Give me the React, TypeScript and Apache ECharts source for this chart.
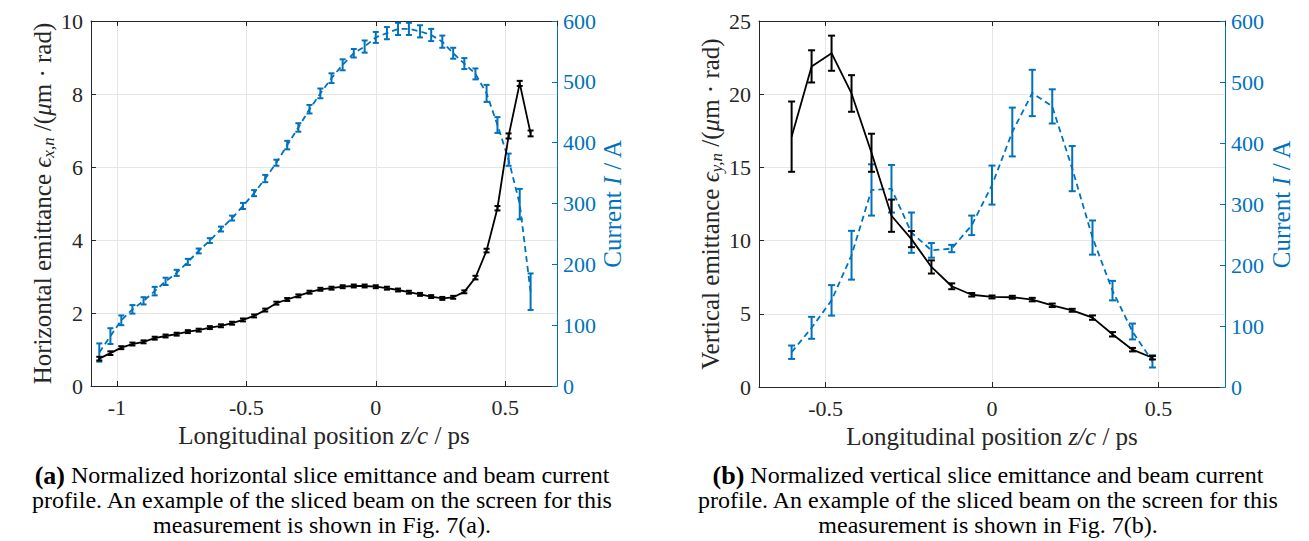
import React, { useEffect, useRef } from "react";
import * as echarts from "echarts";

const FONT = "'Liberation Serif', 'Times New Roman', serif";
const BLUE = "#0072BD";
const BLACK = "#000000";
const AXIS = "#262626";
const GRIDC = "#e6e6e6";

// ---------- (a) horizontal ----------
const hx = [-1.068, -1.025, -0.983, -0.94, -0.897, -0.854, -0.812, -0.769, -0.726, -0.684,
  -0.641, -0.598, -0.555, -0.513, -0.47, -0.427, -0.384, -0.342, -0.299, -0.256,
  -0.214, -0.171, -0.128, -0.085, -0.043, 0.0, 0.043, 0.086, 0.128, 0.171,
  0.214, 0.257, 0.299, 0.342, 0.385, 0.428, 0.47, 0.513, 0.556, 0.598];
const hEmit = [0.75, 0.9, 1.05, 1.15, 1.21, 1.31, 1.37, 1.42, 1.49, 1.53,
  1.6, 1.65, 1.72, 1.81, 1.92, 2.08, 2.27, 2.37, 2.47, 2.57,
  2.65, 2.68, 2.72, 2.74, 2.74, 2.72, 2.68, 2.63, 2.57, 2.51,
  2.45, 2.4, 2.43, 2.58, 2.97, 3.71, 4.87, 6.85, 8.29, 6.92];
const hEmitErr = [0.05, 0.05, 0.04, 0.04, 0.04, 0.04, 0.04, 0.04, 0.04, 0.04,
  0.04, 0.04, 0.04, 0.04, 0.04, 0.04, 0.04, 0.04, 0.04, 0.04,
  0.04, 0.04, 0.04, 0.04, 0.04, 0.04, 0.04, 0.04, 0.04, 0.04,
  0.04, 0.04, 0.04, 0.04, 0.05, 0.05, 0.06, 0.07, 0.07, 0.08];
const hCur = [55, 82, 108, 126, 140, 156, 172, 186, 204, 222,
  239, 258, 276, 296, 317, 341, 367, 396, 425, 455,
  481, 506, 528, 547, 558, 573, 580, 587, 587, 583,
  577, 566, 547, 530, 513, 481, 429, 372, 299, 155];
const hCurErr = [15, 13, 8, 7, 6, 7, 6, 5, 5, 4,
  4, 4, 4, 5, 5, 6, 5, 7, 7, 7,
  8, 8, 9, 7, 10, 9, 10, 10, 10, 10,
  10, 10, 9, 9, 9, 14, 13, 10, 25, 30];

// ---------- (b) vertical ----------
const vx = [-0.602, -0.542, -0.482, -0.422, -0.362, -0.302, -0.242, -0.182, -0.121, -0.061,
  0.0, 0.061, 0.121, 0.181, 0.241, 0.302, 0.362, 0.422, 0.482];
const vEmit = [17.1, 21.9, 22.8, 20.05, 16.0, 11.7, 10.1, 8.2, 6.88, 6.3,
  6.15, 6.13, 5.97, 5.58, 5.24, 4.74, 3.6, 2.55, 2.0];
const vEmitErr = [2.4, 1.1, 1.2, 1.25, 1.3, 1.1, 0.55, 0.45, 0.2, 0.12,
  0.1, 0.1, 0.12, 0.12, 0.1, 0.15, 0.15, 0.12, 0.12];
const vCur = [57, 97, 142, 216, 323, 325, 253, 224, 227, 265,
  331, 418, 482, 460, 358, 245, 158, 91, 42];
const vCurErr = [11, 18, 25, 40, 42, 39, 33, 12, 6, 16,
  32, 40, 38, 28, 37, 28, 16, 13, 10];

// ---------- ranges / texts ----------
const hXRange = [-1.1, 0.7];
const vXRange = [-0.7, 0.7];
const hEmitMax = 10;
const vEmitMax = 25;
const curMax = 600;

const captionA = [
  "{b|(a)} Normalized horizontal slice emittance and beam current",
  "profile. An example of the sliced beam on the screen for this",
  "measurement is shown in Fig. 7(a).",
];
const captionB = [
  "{b|(b)} Normalized vertical slice emittance and beam current",
  "profile. An example of the sliced beam on the screen for this",
  "measurement is shown in Fig. 7(b).",
];

const TICK_FS = 22;
const NAME_FS = 25;
const CAP_FS = 24;

function errSeries(xs: number[], ys: number[], es: number[], color: string, xi: number, yi: number, cap: number, lw: number, z: number) {
  return {
    type: "custom",
    xAxisIndex: xi,
    yAxisIndex: yi,
    z,
    silent: true,
    encode: { x: 0, y: [1, 2] },
    data: xs.map((x, i) => [x, ys[i] - es[i], ys[i] + es[i]]),
    renderItem: (params: any, api: any) => {
      const x = api.value(0);
      const lo = api.coord([x, api.value(1)]);
      const hi = api.coord([x, api.value(2)]);
      const hw = cap / 2;
      const style = { stroke: color, lineWidth: lw, fill: "none" };
      return {
        type: "group",
        children: [
          { type: "line", shape: { x1: lo[0], y1: lo[1], x2: hi[0], y2: hi[1] }, style },
          { type: "line", shape: { x1: lo[0] - hw, y1: lo[1], x2: lo[0] + hw, y2: lo[1] }, style },
          { type: "line", shape: { x1: hi[0] - hw, y1: hi[1], x2: hi[0] + hw, y2: hi[1] }, style },
        ],
      };
    },
  };
}

function lineSeries(xs: number[], ys: number[], color: string, dashed: boolean, xi: number, yi: number, z: number) {
  return {
    type: "line",
    xAxisIndex: xi,
    yAxisIndex: yi,
    z,
    silent: true,
    symbol: "none",
    data: xs.map((x, i) => [x, ys[i]]),
    lineStyle: { color, width: 1.8, type: dashed ? [6, 4] : "solid" },
  };
}

const nameRich = {
  t: { fontFamily: FONT, fontSize: NAME_FS, lineHeight: 30, verticalAlign: "middle" },
  i: { fontFamily: FONT, fontSize: NAME_FS, fontStyle: "italic", lineHeight: 30, verticalAlign: "middle" },
  s: { fontFamily: FONT, fontSize: 17, fontStyle: "italic", lineHeight: 17, verticalAlign: "bottom" },
};

function xAxes(grid: number, range: number[], split: number) {
  const base = {
    gridIndex: grid,
    type: "value",
    min: range[0],
    max: range[1],
    splitNumber: split,
    minInterval: 0.5,
    maxInterval: 0.5,
  };
  return [
    {
      ...base,
      position: "bottom",
      axisLine: { show: true, onZero: false, lineStyle: { color: AXIS, width: 1 } },
      axisTick: { show: true, inside: true, length: 5, lineStyle: { color: AXIS } },
      axisLabel: {
        show: true, showMinLabel: false, showMaxLabel: false, margin: 10,
        fontFamily: FONT, fontSize: TICK_FS, color: AXIS,
        formatter: (v: number) => (Math.abs(v) < 1e-9 ? "0" : String(v)),
      },
      splitLine: { show: true, lineStyle: { color: GRIDC, width: 1 } },
      name: "Longitudinal position {i|z/c} / ps",
      nameLocation: "middle",
      nameGap: 32,
      nameTextStyle: { fontFamily: FONT, fontSize: NAME_FS, color: AXIS, rich: nameRich },
    },
    {
      ...base,
      position: "top",
      axisLine: { show: true, onZero: false, lineStyle: { color: AXIS, width: 1 } },
      axisTick: { show: true, inside: true, length: 5, lineStyle: { color: AXIS } },
      axisLabel: { show: false },
      splitLine: { show: false },
    },
  ];
}

function yLeft(grid: number, max: number, interval: number, name: string, gap: number) {
  return {
    gridIndex: grid,
    type: "value",
    position: "left",
    min: 0,
    max,
    interval,
    axisLine: { show: true, onZero: false, lineStyle: { color: AXIS, width: 1 } },
    axisTick: { show: true, inside: true, length: 5, lineStyle: { color: AXIS } },
    axisLabel: { fontFamily: FONT, fontSize: TICK_FS, color: AXIS, margin: 8 },
    splitLine: { show: true, lineStyle: { color: GRIDC, width: 1 } },
    name,
    nameLocation: "middle",
    nameRotate: 90,
    nameGap: gap,
    nameTextStyle: { fontFamily: FONT, fontSize: NAME_FS, color: AXIS, rich: nameRich },
  };
}

function yRight(grid: number, gap: number) {
  return {
    gridIndex: grid,
    type: "value",
    position: "right",
    min: 0,
    max: curMax,
    interval: 100,
    axisLine: { show: true, onZero: false, lineStyle: { color: BLUE, width: 1 } },
    axisTick: { show: true, inside: true, length: 5, lineStyle: { color: BLUE } },
    axisLabel: { fontFamily: FONT, fontSize: TICK_FS, color: BLUE, margin: 6 },
    splitLine: { show: false },
    name: "Current {i|I} / A",
    nameLocation: "middle",
    nameRotate: 90,
    nameGap: gap,
    nameTextStyle: { fontFamily: FONT, fontSize: NAME_FS, color: BLUE, rich: nameRich },
  };
}

function captionTexts(lines: string[], cx: number) {
  return lines.map((t, k) => ({
    type: "text",
    x: cx,
    y: 475 + k * 25,
    silent: true,
    style: {
      text: t,
      fill: "#000",
      fontFamily: FONT,
      fontSize: CAP_FS,
      lineHeight: 24,
      align: "center",
      verticalAlign: "middle",
      textAlign: "center",
      textVerticalAlign: "middle",
      rich: {
        b: { fontFamily: FONT, fontSize: 26, lineHeight: 24, fontWeight: "bold", fill: "#000" },
      },
    },
  }));
}

export default function App() {
  const ref = useRef<HTMLDivElement>(null);
  useEffect(() => {
    document.body.style.margin = "0";
    const chart = echarts.init(ref.current!, null, { renderer: "svg" });
    const option: any = {
      animation: false,
      backgroundColor: "#ffffff",
      grid: [
        { left: 91, top: 21, width: 466, height: 365 },
        { left: 759, top: 21, width: 466, height: 366 },
      ],
      xAxis: [...xAxes(0, hXRange, 4), ...xAxes(1, vXRange, 3)],
      yAxis: [
        yLeft(0, hEmitMax, 2, "{t|Horizontal emittance }{i|ϵ}{s|x,n}{t| /(}{i|μ}{t|m · rad)}", 31),
        yRight(0, 38),
        yLeft(1, vEmitMax, 5, "{t|Vertical emittance }{i|ϵ}{s|y,n}{t| /(}{i|μ}{t|m · rad)}", 29),
        yRight(1, 41),
      ],
      series: [
        lineSeries(hx, hCur, BLUE, true, 0, 1, 2),
        errSeries(hx, hCur, hCurErr, BLUE, 0, 1, 6, 2, 3),
        lineSeries(hx, hEmit, BLACK, false, 0, 0, 4),
        errSeries(hx, hEmit, hEmitErr, BLACK, 0, 0, 6, 2, 5),
        lineSeries(vx, vCur, BLUE, true, 2, 3, 2),
        errSeries(vx, vCur, vCurErr, BLUE, 2, 3, 7, 2, 3),
        lineSeries(vx, vEmit, BLACK, false, 2, 2, 4),
        errSeries(vx, vEmit, vEmitErr, BLACK, 2, 2, 7, 2, 5),
      ],
      graphic: [...captionTexts(captionA, 322), ...captionTexts(captionB, 988)],
    };
    chart.setOption(option);
    return () => chart.dispose();
  }, []);
  return <div ref={ref} style={{ width: 1309, height: 541 }} />;
}
